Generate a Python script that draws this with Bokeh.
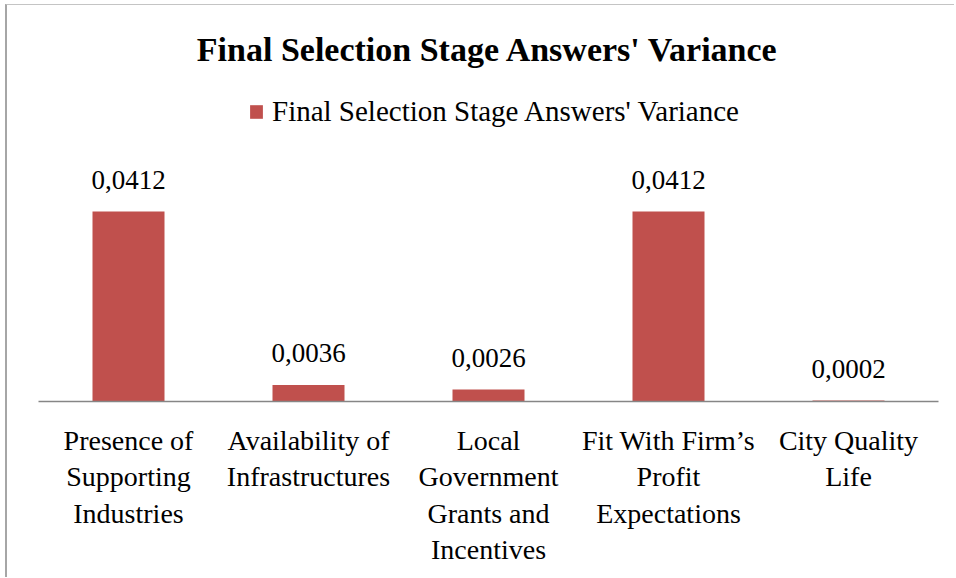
from bokeh.plotting import figure
from bokeh.models import ColumnDataSource, FactorRange, Range1d, Label, Legend, LegendItem
from bokeh.core.properties import value
from bokeh.embed import file_html
from bokeh.resources import INLINE

categories = [
    "Presence of\nSupporting\nIndustries",
    "Availability of\nInfrastructures",
    "Local\nGovernment\nGrants and\nIncentives",
    "Fit With Firm\u2019s\nProfit\nExpectations",
    "City Quality\nLife",
]
variance = [0.0412, 0.0036, 0.0026, 0.0412, 0.0002]
series_name = "Final Selection Stage Answers' Variance"
chart_title = "Final Selection Stage Answers' Variance"

value_labels = [f"{v:.4f}".replace(".", ",") for v in variance]

FONT = "Liberation Serif"
BAR_COLOR = "#C0504D"

source = ColumnDataSource(data=dict(cat=categories, val=variance, lab=value_labels))

p = figure(
    width=949, height=573,
    x_range=FactorRange(*categories, range_padding=0),
    y_range=Range1d(0, 0.0859),
    output_backend="svg", toolbar_location=None,
    min_border_left=31, min_border_right=18, min_border_top=0, min_border_bottom=177,
    background_fill_color="white", border_fill_color="white",
)
p.styles = {"margin-left": "5px", "margin-top": "4px",
            "border-left": "2px solid #a6a6a6", "border-top": "1px solid #c4c4c4"}
p.outline_line_color = None
p.grid.visible = False
p.yaxis.visible = False

bars = p.vbar(x="cat", top="val", width=0.4, source=source,
              fill_color=BAR_COLOR, line_color=None)

p.text(x="cat", y="val", text="lab", source=source,
       text_font=value(FONT), text_font_size="27px", text_color="black",
       text_align="center", text_baseline="alphabetic", y_offset=-32)

xa = p.xaxis[0]
xa.axis_line_color = "#868686"
xa.axis_line_width = 1.5
xa.major_tick_line_color = None
xa.minor_tick_line_color = None
xa.major_label_text_font = FONT
xa.major_label_text_font_size = "28px"
xa.major_label_text_color = "black"
xa.major_label_text_line_height = 1.18
xa.major_label_standoff = 17
xa.major_label_orientation = "horizontal"

title = Label(x=449.5, y=352, x_units="screen", y_units="screen",
              text=chart_title, text_font=FONT, text_font_size="34px",
              text_font_style="bold", text_align="center", text_baseline="middle",
              text_color="black")
p.add_layout(title)

legend = Legend(items=[LegendItem(label=series_name, renderers=[bars])],
                location=(210, 273), orientation="horizontal",
                glyph_width=16, glyph_height=17, label_standoff=8,
                padding=0, margin=0, spacing=0,
                border_line_color=None, background_fill_alpha=0,
                label_text_font=FONT, label_text_font_size="29px",
                label_text_color="black")
p.add_layout(legend)

open("out.html", "w").write(file_html(p, INLINE))
